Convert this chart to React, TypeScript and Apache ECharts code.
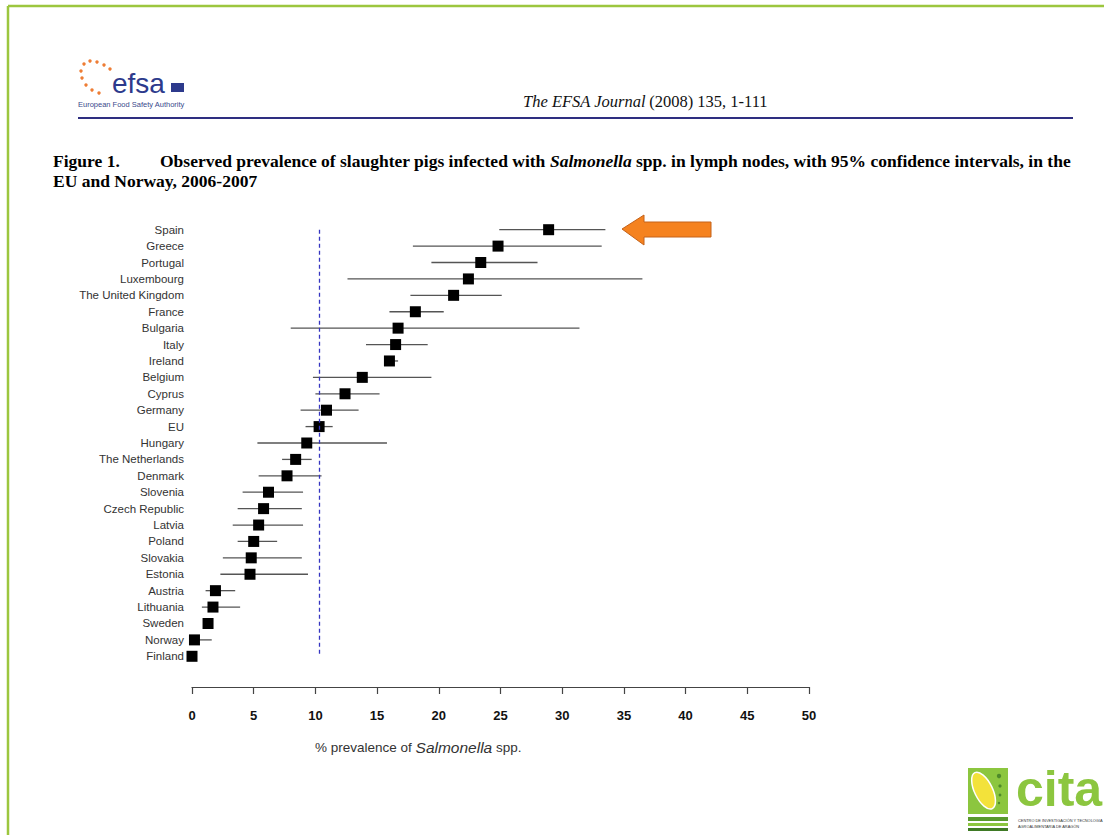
import React, { useEffect, useRef } from "react";
import * as echarts from "echarts";

const countries = [
  "Spain", "Greece", "Portugal", "Luxembourg", "The United Kingdom", "France",
  "Bulgaria", "Italy", "Ireland", "Belgium", "Cyprus", "Germany", "EU",
  "Hungary", "The Netherlands", "Denmark", "Slovenia", "Czech Republic",
  "Latvia", "Poland", "Slovakia", "Estonia", "Austria", "Lithuania",
  "Sweden", "Norway", "Finland",
];
const prevalence = [
  28.9, 24.8, 23.4, 22.4, 21.2, 18.1, 16.7, 16.5, 16.0, 13.8, 12.4, 10.9, 10.3,
  9.3, 8.4, 7.7, 6.2, 5.8, 5.4, 5.0, 4.8, 4.7, 1.9, 1.7, 1.3, 0.2, 0.0,
];
const ciLow = [
  24.9, 17.9, 19.4, 12.6, 17.7, 16.0, 8.0, 14.1, 15.6, 9.8, 10.0, 8.8, 9.2,
  5.3, 7.3, 5.4, 4.1, 3.7, 3.3, 3.7, 2.5, 2.3, 1.1, 0.8, 1.0, 0.0, 0.0,
];
const ciHigh = [
  33.5, 33.2, 28.0, 36.5, 25.1, 20.4, 31.4, 19.1, 16.7, 19.4, 15.2, 13.5, 11.4,
  15.8, 9.7, 10.5, 9.0, 8.9, 9.0, 6.9, 8.9, 9.4, 3.5, 3.9, 1.6, 1.6, 0.3,
];
const euValue = 10.3;
const xMin = 0;
const xMax = 50;
const xStep = 5;

export default function App() {
  const ref = useRef<HTMLDivElement>(null);
  useEffect(() => {
    if (!ref.current) return;
    const chart = echarts.init(ref.current, null, { renderer: "svg" });
    const stars = [
      [84, 64], [90, 61], [97, 62], [104, 65], [110, 69],
      [81, 71], [82, 78], [86, 85], [92, 90], [99, 93],
    ];
    const option: any = {
      animation: false,
      backgroundColor: "#ffffff",
      grid: { left: 192, right: 295, top: 221.5, bottom: 170.5 },
      xAxis: {
        type: "value",
        min: xMin,
        max: xMax,
        interval: xStep,
        offset: 22.5,
        splitLine: { show: false },
        axisLine: { show: true, lineStyle: { color: "#444", width: 1.2 } },
        axisTick: { show: true, length: 7, lineStyle: { color: "#444", width: 1.2 } },
        axisLabel: {
          margin: 22,
          color: "#111",
          fontSize: 13,
          fontWeight: "bold",
          fontFamily: "Liberation Sans Narrow, Liberation Sans, Arial, sans-serif",
        },
      },
      yAxis: {
        type: "category",
        data: countries,
        inverse: true,
        axisLine: { show: false },
        axisTick: { show: false },
        splitLine: { show: false },
        axisLabel: {
          margin: 8,
          color: "#333",
          fontSize: 11.5,
          fontFamily: "Liberation Sans, Arial, sans-serif",
        },
      },
      series: [
        {
          type: "custom",
          name: "ci",
          silent: true,
          data: countries.map((c, i) => [i, ciLow[i], ciHigh[i]]),
          encode: { x: [1, 2], y: 0 },
          renderItem: (params: any, api: any) => {
            const idx = api.value(0);
            const p1 = api.coord([api.value(1), idx]);
            const p2 = api.coord([api.value(2), idx]);
            return {
              type: "line",
              shape: { x1: p1[0], y1: p1[1], x2: p2[0], y2: p2[1] },
              style: { stroke: "#555", lineWidth: 1.3 },
            };
          },
          z: 2,
        },
        {
          type: "scatter",
          name: "prevalence",
          symbol: "rect",
          symbolSize: 11,
          itemStyle: { color: "#000", opacity: 1 },
          data: countries.map((c, i) => [prevalence[i], c]),
          z: 3,
          markLine: {
            silent: true,
            symbol: "none",
            label: { show: false },
            lineStyle: { type: [4, 3], color: "#3535c0", width: 1.3 },
            data: [
              [
                { coord: [euValue, countries[0]] },
                { coord: [euValue, countries[countries.length - 1]] },
              ],
            ],
          },
        },
      ],
      graphic: [
        // green frame
        { type: "line", shape: { x1: 8, y1: 6, x2: 1104, y2: 6 }, style: { stroke: "#9cc63e", lineWidth: 2.5 } },
        { type: "line", shape: { x1: 8, y1: 6, x2: 8, y2: 835 }, style: { stroke: "#9cc63e", lineWidth: 2.5 } },
        // efsa logo
        ...stars.map((s) => ({
          type: "circle",
          shape: { cx: s[0], cy: s[1], r: 1.7 },
          style: { fill: "#ee7d35" },
        })),
        {
          type: "text",
          x: 112,
          y: 97,
          style: {
            text: "efsa",
            fill: "#2d3a8c",
            font: "28px 'Liberation Sans Narrow', 'Liberation Sans', Arial, sans-serif",
            textVerticalAlign: "bottom",
          },
        },
        { type: "rect", shape: { x: 171, y: 83, width: 13, height: 9 }, style: { fill: "#2d3a8c" } },
        {
          type: "text",
          x: 78,
          y: 104,
          style: {
            text: "European Food Safety Authority",
            fill: "#3a4a8c",
            font: "7.5px 'Liberation Sans', Arial, sans-serif",
            textVerticalAlign: "middle",
          },
        },
        // journal title
        {
          type: "text",
          x: 523,
          y: 101,
          style: {
            text: "{i|The EFSA Journal} {n|(2008) 135, 1-111}",
            textVerticalAlign: "middle",
            rich: {
              i: { font: "italic 16.5px 'Liberation Serif', serif", fill: "#111" },
              n: { font: "16.5px 'Liberation Serif', serif", fill: "#111" },
            },
          },
        },
        { type: "line", shape: { x1: 78, y1: 118, x2: 1073, y2: 118 }, style: { stroke: "#2e2e80", lineWidth: 2.2 } },
        // caption
        {
          type: "text",
          x: 53,
          y: 161,
          style: {
            text: "Figure 1.",
            fill: "#000",
            font: "bold 17.5px 'Liberation Serif', serif",
            textVerticalAlign: "middle",
          },
        },
        {
          type: "text",
          x: 160,
          y: 161,
          style: {
            text: "{b|Observed prevalence of slaughter pigs infected with }{i|Salmonella}{b| spp. in lymph nodes, with 95% confidence intervals, in the}",
            textVerticalAlign: "middle",
            rich: {
              b: { font: "bold 17.5px 'Liberation Serif', serif", fill: "#000" },
              i: { font: "bold italic 17.5px 'Liberation Serif', serif", fill: "#000" },
            },
          },
        },
        {
          type: "text",
          x: 53,
          y: 181,
          style: {
            text: "EU and Norway, 2006-2007",
            fill: "#000",
            font: "bold 17.5px 'Liberation Serif', serif",
            textVerticalAlign: "middle",
          },
        },
        // orange arrow
        {
          type: "polygon",
          shape: {
            points: [
              [622, 229], [644, 215], [644, 222], [711, 222], [711, 237], [644, 237], [644, 245],
            ],
          },
          style: { fill: "#f5821f", stroke: "#c4621a", lineWidth: 1 },
        },
        // x axis name
        {
          type: "text",
          x: 315,
          y: 747,
          style: {
            text: "{a|% prevalence of }{i|Salmonella}{a| spp.}",
            textVerticalAlign: "middle",
            rich: {
              a: { font: "13.5px 'Liberation Sans', Arial, sans-serif", fill: "#333" },
              i: { font: "italic 15.5px 'Liberation Sans', Arial, sans-serif", fill: "#333" },
            },
          },
        },
        // cita logo
        { type: "rect", shape: { x: 968, y: 768, width: 40, height: 46 }, style: { fill: "#8cc63f" } },
        {
          type: "ellipse",
          shape: { cx: 984, cy: 791, rx: 9, ry: 20 },
          rotation: 0.45,
          originX: 984,
          originY: 791,
          style: { fill: "#f3e23a", stroke: "#ffffff", lineWidth: 1.5 },
        },
        { type: "circle", shape: { cx: 999, cy: 776, r: 2.2 }, style: { fill: "#4e8a2a" } },
        { type: "circle", shape: { cx: 1000, cy: 786, r: 1.6 }, style: { fill: "#4e8a2a" } },
        { type: "circle", shape: { cx: 1000, cy: 795, r: 1.4 }, style: { fill: "#4e8a2a" } },
        { type: "circle", shape: { cx: 999, cy: 803, r: 1.2 }, style: { fill: "#4e8a2a" } },
        { type: "rect", shape: { x: 968, y: 817, width: 40, height: 4 }, style: { fill: "#5a9a2e" } },
        { type: "rect", shape: { x: 968, y: 823, width: 40, height: 3 }, style: { fill: "#8cc63f" } },
        { type: "rect", shape: { x: 968, y: 828, width: 40, height: 3 }, style: { fill: "#3f7a25" } },
        {
          type: "text",
          x: 1016,
          y: 814,
          style: {
            text: "cita",
            fill: "#8cc63f",
            font: "bold 50px 'Liberation Sans', Arial, sans-serif",
            textVerticalAlign: "bottom",
          },
        },
        {
          type: "text",
          x: 1018,
          y: 820,
          style: {
            text: "CENTRO DE INVESTIGACIÓN Y TECNOLOGÍA",
            fill: "#333",
            font: "3.9px 'Liberation Sans', Arial, sans-serif",
            textVerticalAlign: "middle",
          },
        },
        {
          type: "text",
          x: 1018,
          y: 826,
          style: {
            text: "AGROALIMENTARIA DE ARAGÓN",
            fill: "#333",
            font: "3.9px 'Liberation Sans', Arial, sans-serif",
            textVerticalAlign: "middle",
          },
        },
      ],
    };
    chart.setOption(option);
    return () => chart.dispose();
  }, []);
  return (
    <div
      ref={ref}
      style={{ position: "fixed", left: 0, top: 0, width: 1104, height: 835 }}
    />
  );
}
